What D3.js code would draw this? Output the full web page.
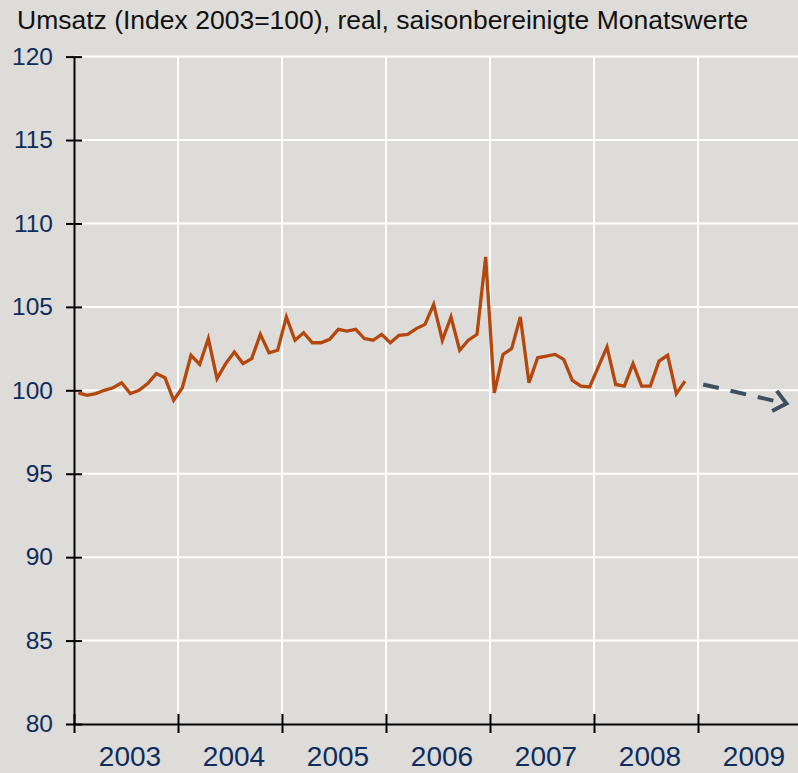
<!DOCTYPE html>
<html>
<head>
<meta charset="utf-8">
<script src="https://cdn.jsdelivr.net/npm/d3@7"></script>
<style>
  body { margin: 0; background: #dddcd8; }
  svg { display: block; font-family: "Liberation Sans", Arial, sans-serif; }
</style>
</head>
<body>
<svg id="chart" width="798" height="773"></svg>
<script>
const title = 'Umsatz (Index 2003=100), real, saisonbereinigte Monatswerte'

// year labels, one per year on the x axis
const years = ['2003', '2004', '2005', '2006', '2007', '2008', '2009']

// y axis ticks
const yTicks = [80, 85, 90, 95, 100, 105, 110, 115, 120]

// monthly values, Jan 2003 .. Nov 2008
const sales2003 = [99.85, 99.7, 99.8, 100.0, 100.15, 100.45, 99.8, 100.0, 100.4, 101.0, 100.75, 99.4]
const sales2004 = [100.15, 102.1, 101.55, 103.1, 100.7, 101.6, 102.3, 101.6, 101.9, 103.35, 102.25, 102.4]
const sales2005 = [104.4, 103.0, 103.45, 102.85, 102.85, 103.05, 103.65, 103.55, 103.65, 103.1, 103.0, 103.35]
const sales2006 = [102.85, 103.3, 103.35, 103.7, 103.95, 105.15, 103.0, 104.4, 102.4, 103.0, 103.35, 108.0]
const sales2007 = [99.85, 102.15, 102.5, 104.4, 100.45, 101.95, 102.05, 102.15, 101.85, 100.6, 100.25, 100.2]
const sales2008 = [101.4, 102.6, 100.35, 100.25, 101.6, 100.25, 100.25, 101.75, 102.1, 99.8, 100.55]

// dashed trend arrow for 2009: [month index, value]
const trendArrow = [[72.6, 100.35], [82.2, 99.2]]

const sales = [].concat(sales2003, sales2004, sales2005, sales2006, sales2007, sales2008)

const navy = '#0f2d5c'
const svg = d3.select('#chart')

const x = d3.scaleLinear().domain([0, years.length * 12]).range([74, 802])
const y = d3.scaleLinear().domain([80, 120]).range([724, 56.6])

svg.append('text')
  .attr('x', 17)
  .attr('y', 29)
  .attr('font-size', 26.5)
  .attr('fill', '#111')
  .text(title)

// grid
const grid = svg.append('g').attr('stroke', '#fff').attr('stroke-width', 2)
grid.selectAll('line.h')
  .data(yTicks.filter(d => d !== 80))
  .enter().append('line')
  .attr('x1', x(0)).attr('x2', 798)
  .attr('y1', d => y(d)).attr('y2', d => y(d))
grid.selectAll('line.v')
  .data(d3.range(1, years.length).map(i => i * 12))
  .enter().append('line')
  .attr('x1', d => x(d)).attr('x2', d => x(d))
  .attr('y1', y(120)).attr('y2', y(80) - 10)

// y axis
const yAxis = svg.append('g')
  .attr('transform', `translate(${x(0)},0)`)
  .call(d3.axisLeft(y).tickValues(yTicks).tickSizeOuter(0))
yAxis.select('.domain').attr('stroke', '#000').attr('stroke-width', 2)
yAxis.selectAll('.tick line').attr('x1', 8).attr('x2', -8).attr('stroke', '#000').attr('stroke-width', 2)
yAxis.selectAll('.tick text')
  .attr('x', -21)
  .attr('font-size', 24.5)
  .attr('font-family', '"Liberation Sans", Arial, sans-serif')
  .attr('fill', navy)

// x axis: ticks at year boundaries, labels at mid-year
const xAxis = svg.append('g')
  .attr('transform', `translate(0,${y(80)})`)
  .call(d3.axisBottom(x).tickValues(d3.range(0, years.length).map(i => i * 12)).tickFormat('').tickSizeOuter(0))
xAxis.select('.domain').attr('stroke', '#000').attr('stroke-width', 2)
xAxis.selectAll('.tick line').attr('y1', -10).attr('y2', 9).attr('stroke', '#000').attr('stroke-width', 2)

svg.append('g')
  .attr('font-size', 28)
  .attr('fill', navy)
  .attr('text-anchor', 'middle')
  .selectAll('text')
  .data(years)
  .enter().append('text')
  .attr('x', (d, i) => x(i * 12 + 6) + 4)
  .attr('y', y(80) + 42)
  .text(d => d)

// sales line
const line = d3.line()
  .x((d, i) => x(i + 0.5))
  .y(d => y(d))

svg.append('path')
  .datum(sales)
  .attr('fill', 'none')
  .attr('stroke', '#b4470e')
  .attr('stroke-width', 3.3)
  .attr('d', line)

// trend arrow
const arrowColor = '#3e5060'
const p0 = [x(trendArrow[0][0]), y(trendArrow[0][1])]
const p1 = [x(trendArrow[1][0]), y(trendArrow[1][1])]
svg.append('line')
  .attr('x1', p0[0]).attr('y1', p0[1])
  .attr('x2', p1[0]).attr('y2', p1[1])
  .attr('stroke', arrowColor)
  .attr('stroke-width', 4)
  .attr('stroke-dasharray', '16,12')

const angle = Math.atan2(p1[1] - p0[1], p1[0] - p0[0])
const head = [angle + Math.PI - 0.7, angle + Math.PI + 0.7].map(a => [p1[0] + 16 * Math.cos(a), p1[1] + 16 * Math.sin(a)])
svg.append('path')
  .attr('d', `M${head[0][0]},${head[0][1]}L${p1[0]},${p1[1]}L${head[1][0]},${head[1][1]}`)
  .attr('fill', 'none')
  .attr('stroke', arrowColor)
  .attr('stroke-width', 4)
</script>
</body>
</html>
